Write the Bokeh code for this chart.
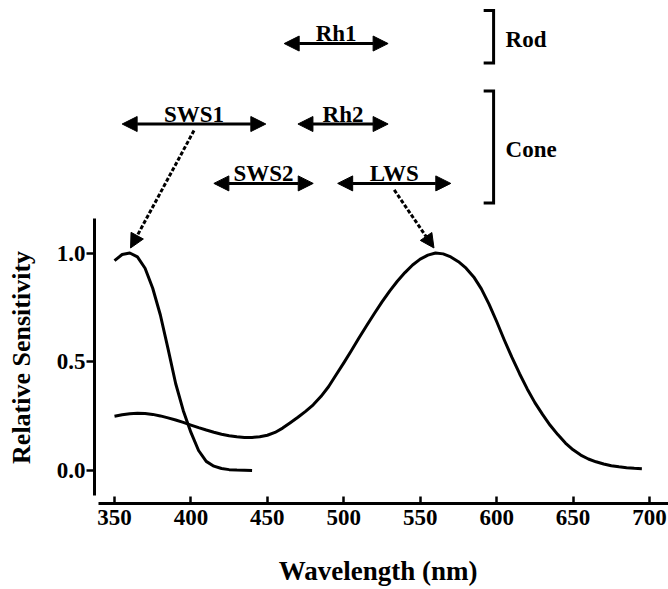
from math import pi
from bokeh.plotting import figure
from bokeh.models import (Range1d, FixedTicker, Arrow, NormalHead, ColumnDataSource,
                          Label, PrintfTickFormatter)
from bokeh.core.properties import value
from bokeh.embed import file_html
from bokeh.resources import INLINE

# ---------------- data ----------------
wl_sws1 = [350, 355, 360, 365, 370, 375, 380, 385, 390, 395, 400, 405, 410, 415,
           420, 425, 430, 435, 440]
sens_sws1 = [0.965, 0.993, 1.000, 0.982, 0.930, 0.838, 0.715, 0.560, 0.400, 0.275,
             0.175, 0.092, 0.042, 0.020, 0.009, 0.004, 0.002, 0.001, 0.000]

wl_lws = [350, 355, 360, 365, 370, 375, 380, 385, 390, 395, 400, 405, 410, 415, 420,
          425, 430, 435, 440, 445, 450, 455, 460, 465, 470, 475, 480, 485, 490, 495,
          500, 505, 510, 515, 520, 525, 530, 535, 540, 545, 550, 555, 560, 565, 570,
          575, 580, 585, 590, 595, 600, 605, 610, 615, 620, 625, 630, 635, 640, 645,
          650, 655, 660, 665, 670, 675, 680, 685, 690, 695]
sens_lws = [0.249, 0.256, 0.261, 0.263, 0.262, 0.258, 0.251, 0.242, 0.232, 0.221,
            0.209, 0.197, 0.186, 0.176, 0.167, 0.160, 0.155, 0.152, 0.152, 0.155,
            0.162, 0.175, 0.195, 0.220, 0.245, 0.272, 0.302, 0.340, 0.385, 0.440,
            0.495, 0.552, 0.610, 0.667, 0.722, 0.775, 0.825, 0.870, 0.910, 0.945,
            0.972, 0.990, 1.000, 0.996, 0.982, 0.960, 0.930, 0.890, 0.835, 0.765,
            0.685, 0.600, 0.520, 0.445, 0.375, 0.312, 0.258, 0.208, 0.165, 0.126,
            0.095, 0.071, 0.053, 0.040, 0.030, 0.022, 0.017, 0.013, 0.010, 0.008]

x_ticks = [350, 400, 450, 500, 550, 600, 650, 700]
y_ticks = [0.0, 0.5, 1.0]

opsins = ["Rh1", "SWS1", "Rh2", "SWS2", "LWS"]
range_lo = [461, 355, 470, 415, 496]
range_hi = [529, 449, 529, 480, 570]
opsin_row = [0, 1, 1, 2, 2]

receptor_classes = ["Rod", "Cone"]
class_first_row = [0, 1]
class_last_row = [0, 2]

peak_opsins = ["SWS1", "LWS"]
lambda_max = [360.5, 559]
peak_value = [1.0, 1.0]

x_title = "Wavelength (nm)"
y_title = "Relative Sensitivity"

# ---------------- styling constants ----------------
FONT = "Liberation Serif"
ROW_Y = [1.963, 1.593, 1.320]
BR_PAD_TOP, BR_PAD_BOT = 0.152, 0.090
BR_X, BR_TICK = 598.0, 6.5

p = figure(width=668, height=589, output_backend="svg", toolbar_location=None,
           x_range=Range1d(275.42, 712.42), y_range=Range1d(-0.5471, 2.1609),
           min_border_left=0, min_border_bottom=0, min_border_top=0,
           min_border_right=0)
p.outline_line_color = None
p.grid.visible = False
p.background_fill_color = "white"
p.border_fill_color = "white"

# x axis
xa = p.xaxis[0]
xa.fixed_location = -0.1517
xa.bounds = (339.5, 712.4)
xa.ticker = FixedTicker(ticks=x_ticks)
xa.major_tick_in = 7
xa.major_tick_out = 0
xa.minor_tick_line_color = None
xa.axis_line_width = 3
xa.major_tick_line_width = 2.5
xa.major_label_standoff = 7
xa.major_label_text_font = FONT
xa.major_label_text_font_style = "bold"
xa.major_label_text_font_size = "23px"
xa.major_label_text_color = "black"

# y axis
ya = p.yaxis[0]
ya.fixed_location = 336.92
ya.bounds = (-0.115, 1.159)
ya.ticker = FixedTicker(ticks=y_ticks)
ya.formatter = PrintfTickFormatter(format="%.1f")
ya.major_tick_in = 0
ya.major_tick_out = 8
ya.minor_tick_line_color = None
ya.axis_line_width = 3
ya.major_tick_line_width = 2.5
ya.major_label_standoff = 1
ya.major_label_text_font = FONT
ya.major_label_text_font_style = "bold"
ya.major_label_text_font_size = "23px"
ya.major_label_text_color = "black"

# axis titles
p.add_layout(Label(x=522.4, y=-0.464, text=x_title, text_align="center",
                   text_baseline="middle", text_font=FONT, text_font_style="bold",
                   text_font_size="27px", text_color="black"))
p.add_layout(Label(x=289.2, y=0.52, text=y_title, angle=pi / 2,
                   text_align="center", text_baseline="middle", text_font=FONT,
                   text_font_style="bold", text_font_size="26px", text_color="black"))

# curves
p.line(wl_sws1, sens_sws1, line_width=3, line_color="black", line_join="round")
p.line(wl_lws, sens_lws, line_width=3, line_color="black", line_join="round")

# spectral-range arrows
ys = [ROW_Y[r] for r in opsin_row]
mids = [(a + b) / 2 for a, b in zip(range_lo, range_hi)]
src = ColumnDataSource(dict(lo=range_lo, hi=range_hi, y=ys, mid=mids, name=opsins))


def head(sz):
    return NormalHead(size=sz, fill_color="black", line_color="black", line_width=1)


p.add_layout(Arrow(start=head(15), end=head(15), x_start="lo", y_start="y",
                   x_end="hi", y_end="y", source=src, line_width=3,
                   line_color="black"))
p.text(x="mid", y="y", text="name", source=src, text_align="center",
       text_baseline="alphabetic", y_offset=-10, text_font=value(FONT),
       text_font_style="bold", text_font_size="23px", text_color="black")

# dashed arrows to peaks
ds_x, ds_y = [], []
for name in peak_opsins:
    i = opsins.index(name)
    ds_x.append(mids[i])
    ds_y.append(ys[i] - 0.03)
dsrc = ColumnDataSource(dict(xs=ds_x, ys=ds_y, xe=lambda_max,
                             ye=[v + 0.023 for v in peak_value]))
p.add_layout(Arrow(end=head(14), x_start="xs", y_start="ys", x_end="xe", y_end="ye",
                   source=dsrc, line_width=3, line_color="black", line_dash="4 2"))

# brackets for rod / cone
bx, by, cy = [], [], []
for f, l in zip(class_first_row, class_last_row):
    top = ROW_Y[f] + BR_PAD_TOP
    bot = ROW_Y[l] - BR_PAD_BOT
    bx.append([BR_X - BR_TICK, BR_X, BR_X, BR_X - BR_TICK])
    by.append([top, top, bot, bot])
    cy.append((top + bot) / 2)
p.multi_line(xs=bx, ys=by, line_width=3, line_color="black", line_join="miter")
p.text(x=[BR_X] * len(receptor_classes), y=cy, text=receptor_classes, x_offset=12,
       y_offset=3, text_align="left", text_baseline="middle", text_font=value(FONT),
       text_font_style="bold", text_font_size="23px", text_color="black")

open("out.html", "w").write(file_html(p, INLINE))
